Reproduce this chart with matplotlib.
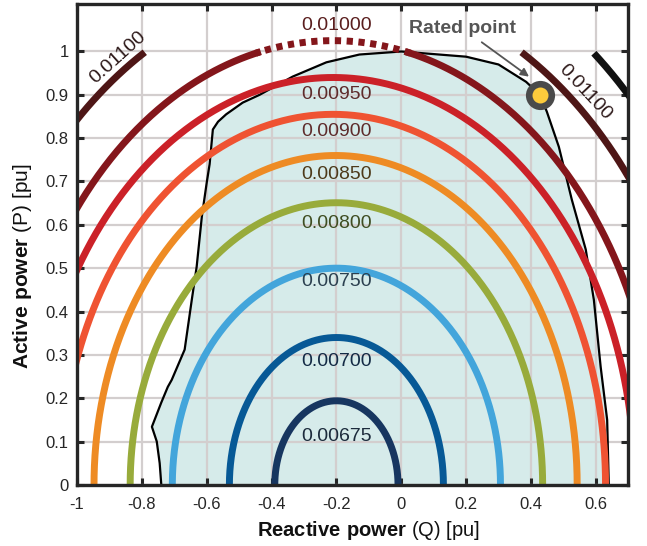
import numpy as np
import matplotlib.pyplot as plt

plt.rcParams['font.family'] = ['Liberation Sans', 'DejaVu Sans']
plt.rcParams['mathtext.fontset'] = 'custom'
plt.rcParams['mathtext.rm'] = 'Liberation Sans'
plt.rcParams['mathtext.bf'] = 'Liberation Sans:bold'

# loss contour levels and their shape
levels = [0.00675, 0.00700, 0.00750, 0.00800, 0.00850, 0.00900, 0.00950, 0.01000, 0.01100, 0.01200]
q_center = [-0.2, -0.2, -0.2, -0.2, -0.2025, -0.21, -0.21, -0.21, -0.21, -0.21]
q_radius = [0.19, 0.33, 0.506, 0.636, 0.745, 0.84, 0.93, 1.01, 1.155, 1.28]
p_radius = [0.194, 0.34, 0.50, 0.651, 0.76, 0.855, 0.94, 1.025, 1.155, 1.28]
line_colors = ['#173660', '#075996', '#43a5db', '#98ab3b', '#ee8b24', '#ef5332',
               '#cb2128', '#84161b', '#4e1616', '#111111']
label_colors = ['#1c2b3c', '#132a45', '#2b4050', '#3f4d22', '#4d3a1a', '#5e2b2b',
                '#5e2b2b', '#5a1e1e', '#2e1a1a', '#000000']
dotted_top = [False] * 7 + [True, False, False]
show_left = [True] * 9 + [False]

# label positions of the horizontal labels (Q = -0.2)
label_p = [0.111, 0.284, 0.469, 0.603, 0.716, 0.815, 0.90, 1.06]

# capability region boundary
region_q = [-0.74, -0.745, -0.754, -0.769, -0.74, -0.72, -0.708, -0.668, -0.646, -0.631,
            -0.615, -0.60, -0.591, -0.581, -0.565, -0.54, -0.489, -0.437, -0.335, -0.231,
            -0.129, 0.0, 0.2, 0.30, 0.385, 0.428, 0.449, 0.486, 0.526, 0.569, 0.594,
            0.615, 0.635, 0.64]
region_p = [0.0, 0.05, 0.10, 0.134, 0.19, 0.226, 0.242, 0.312, 0.427, 0.503,
            0.619, 0.697, 0.74, 0.82, 0.838, 0.855, 0.882, 0.90, 0.942, 0.975,
            0.993, 1.0, 0.988, 0.97, 0.93, 0.90, 0.861, 0.78, 0.658, 0.543, 0.427,
            0.272, 0.15, 0.0]

rated_q, rated_p = 0.428, 0.90

x_ticks = [-1, -0.8, -0.6, -0.4, -0.2, 0, 0.2, 0.4, 0.6]
x_ticklabels = ['-1', '-0.8', '-0.6', '-0.4', '-0.2', '0', '0.2', '0.4', '0.6']
y_ticks = [0, 0.1, 0.2, 0.3, 0.4, 0.5, 0.6, 0.7, 0.8, 0.9, 1.0]
y_ticklabels = ['0', '0.1', '0.2', '0.3', '0.4', '0.5', '0.6', '0.7', '0.8', '0.9', '1']

fig = plt.figure(figsize=(6.47, 5.46), dpi=100)
ax = fig.add_axes([0.119, 0.112, 0.852, 0.881])

# shaded region
ax.fill(region_q, region_p, color='#d6ebea', zorder=1, lw=0)
ax.plot(region_q, region_p, color='black', lw=1.6, zorder=2.5)

# contours
t = np.linspace(0, np.pi, 600)
for i, lev in enumerate(levels):
    q = q_center[i] + q_radius[i] * np.cos(t)
    p = p_radius[i] * np.sin(t)
    keep = p <= 1.0
    if not show_left[i]:
        keep &= q > 0
    ax.plot(np.where(keep, q, np.nan), np.where(keep, p, np.nan), color=line_colors[i],
            lw=5, solid_capstyle='butt', zorder=3)
    if dotted_top[i]:
        top = p > 0.995
        ax.plot(q[top], p[top], color=line_colors[i], lw=5, ls=(0, (0.9, 0.8)),
                dash_capstyle='butt', zorder=3)

for i, pl in enumerate(label_p):
    ax.text(-0.2, pl, f'{levels[i]:.5f}', ha='center', va='center', fontsize=14,
            color=label_colors[i], zorder=4)

# the two rotated 0.01100 labels
ax.text(-0.875, 0.986, f'{levels[8]:.5f}', ha='center', va='center', fontsize=14,
        rotation=42, color=label_colors[8], zorder=4)
ax.text(0.566, 0.907, f'{levels[8]:.5f}', ha='center', va='center', fontsize=14,
        rotation=-47, color=label_colors[8], zorder=4)

# rated point
ax.plot(rated_q, rated_p, 'o', ms=21, mfc='#4a4a4a', mec='none', zorder=6)
ax.plot(rated_q, rated_p, 'o', ms=11.5, mfc='#fdcb3c', mec='none', zorder=7)
ax.annotate('Rated point', xy=(0.394, 0.942), xytext=(0.19, 1.053),
            ha='center', va='center', fontsize=14, fontweight='bold', color='#555555',
            arrowprops=dict(arrowstyle='-|>', color='#555555', lw=1.3,
                            mutation_scale=12, shrinkA=3, shrinkB=0), zorder=6)

ax.set_xlim(-1, 0.7)
ax.set_ylim(0, 1.11)
ax.set_xticks(x_ticks)
ax.set_xticklabels(x_ticklabels)
ax.set_yticks(y_ticks)
ax.set_yticklabels(y_ticklabels)
ax.grid(True, color='#d3cece', lw=1.6)
ax.tick_params(direction='in', top=True, right=True, length=5, width=2.2,
               color='#262626', labelsize=12, labelcolor='#262626')
ax.tick_params(axis='x', pad=9)
ax.tick_params(axis='y', pad=6)
for s in ax.spines.values():
    s.set_linewidth(2.4)
    s.set_color('#262626')
    s.set_zorder(8)

ax.set_xlabel(r'$\bf{Reactive\ power}$ (Q) [pu]', fontsize=14.5, color='#111111', va='center')
ax.set_ylabel(r'$\bf{Active\ power}$ (P) [pu]', fontsize=15, color='#111111', va='center')
ax.xaxis.set_label_coords(0.528, -0.094)
ax.yaxis.set_label_coords(-0.098, 0.455)

fig.savefig('out.png', dpi=100)
